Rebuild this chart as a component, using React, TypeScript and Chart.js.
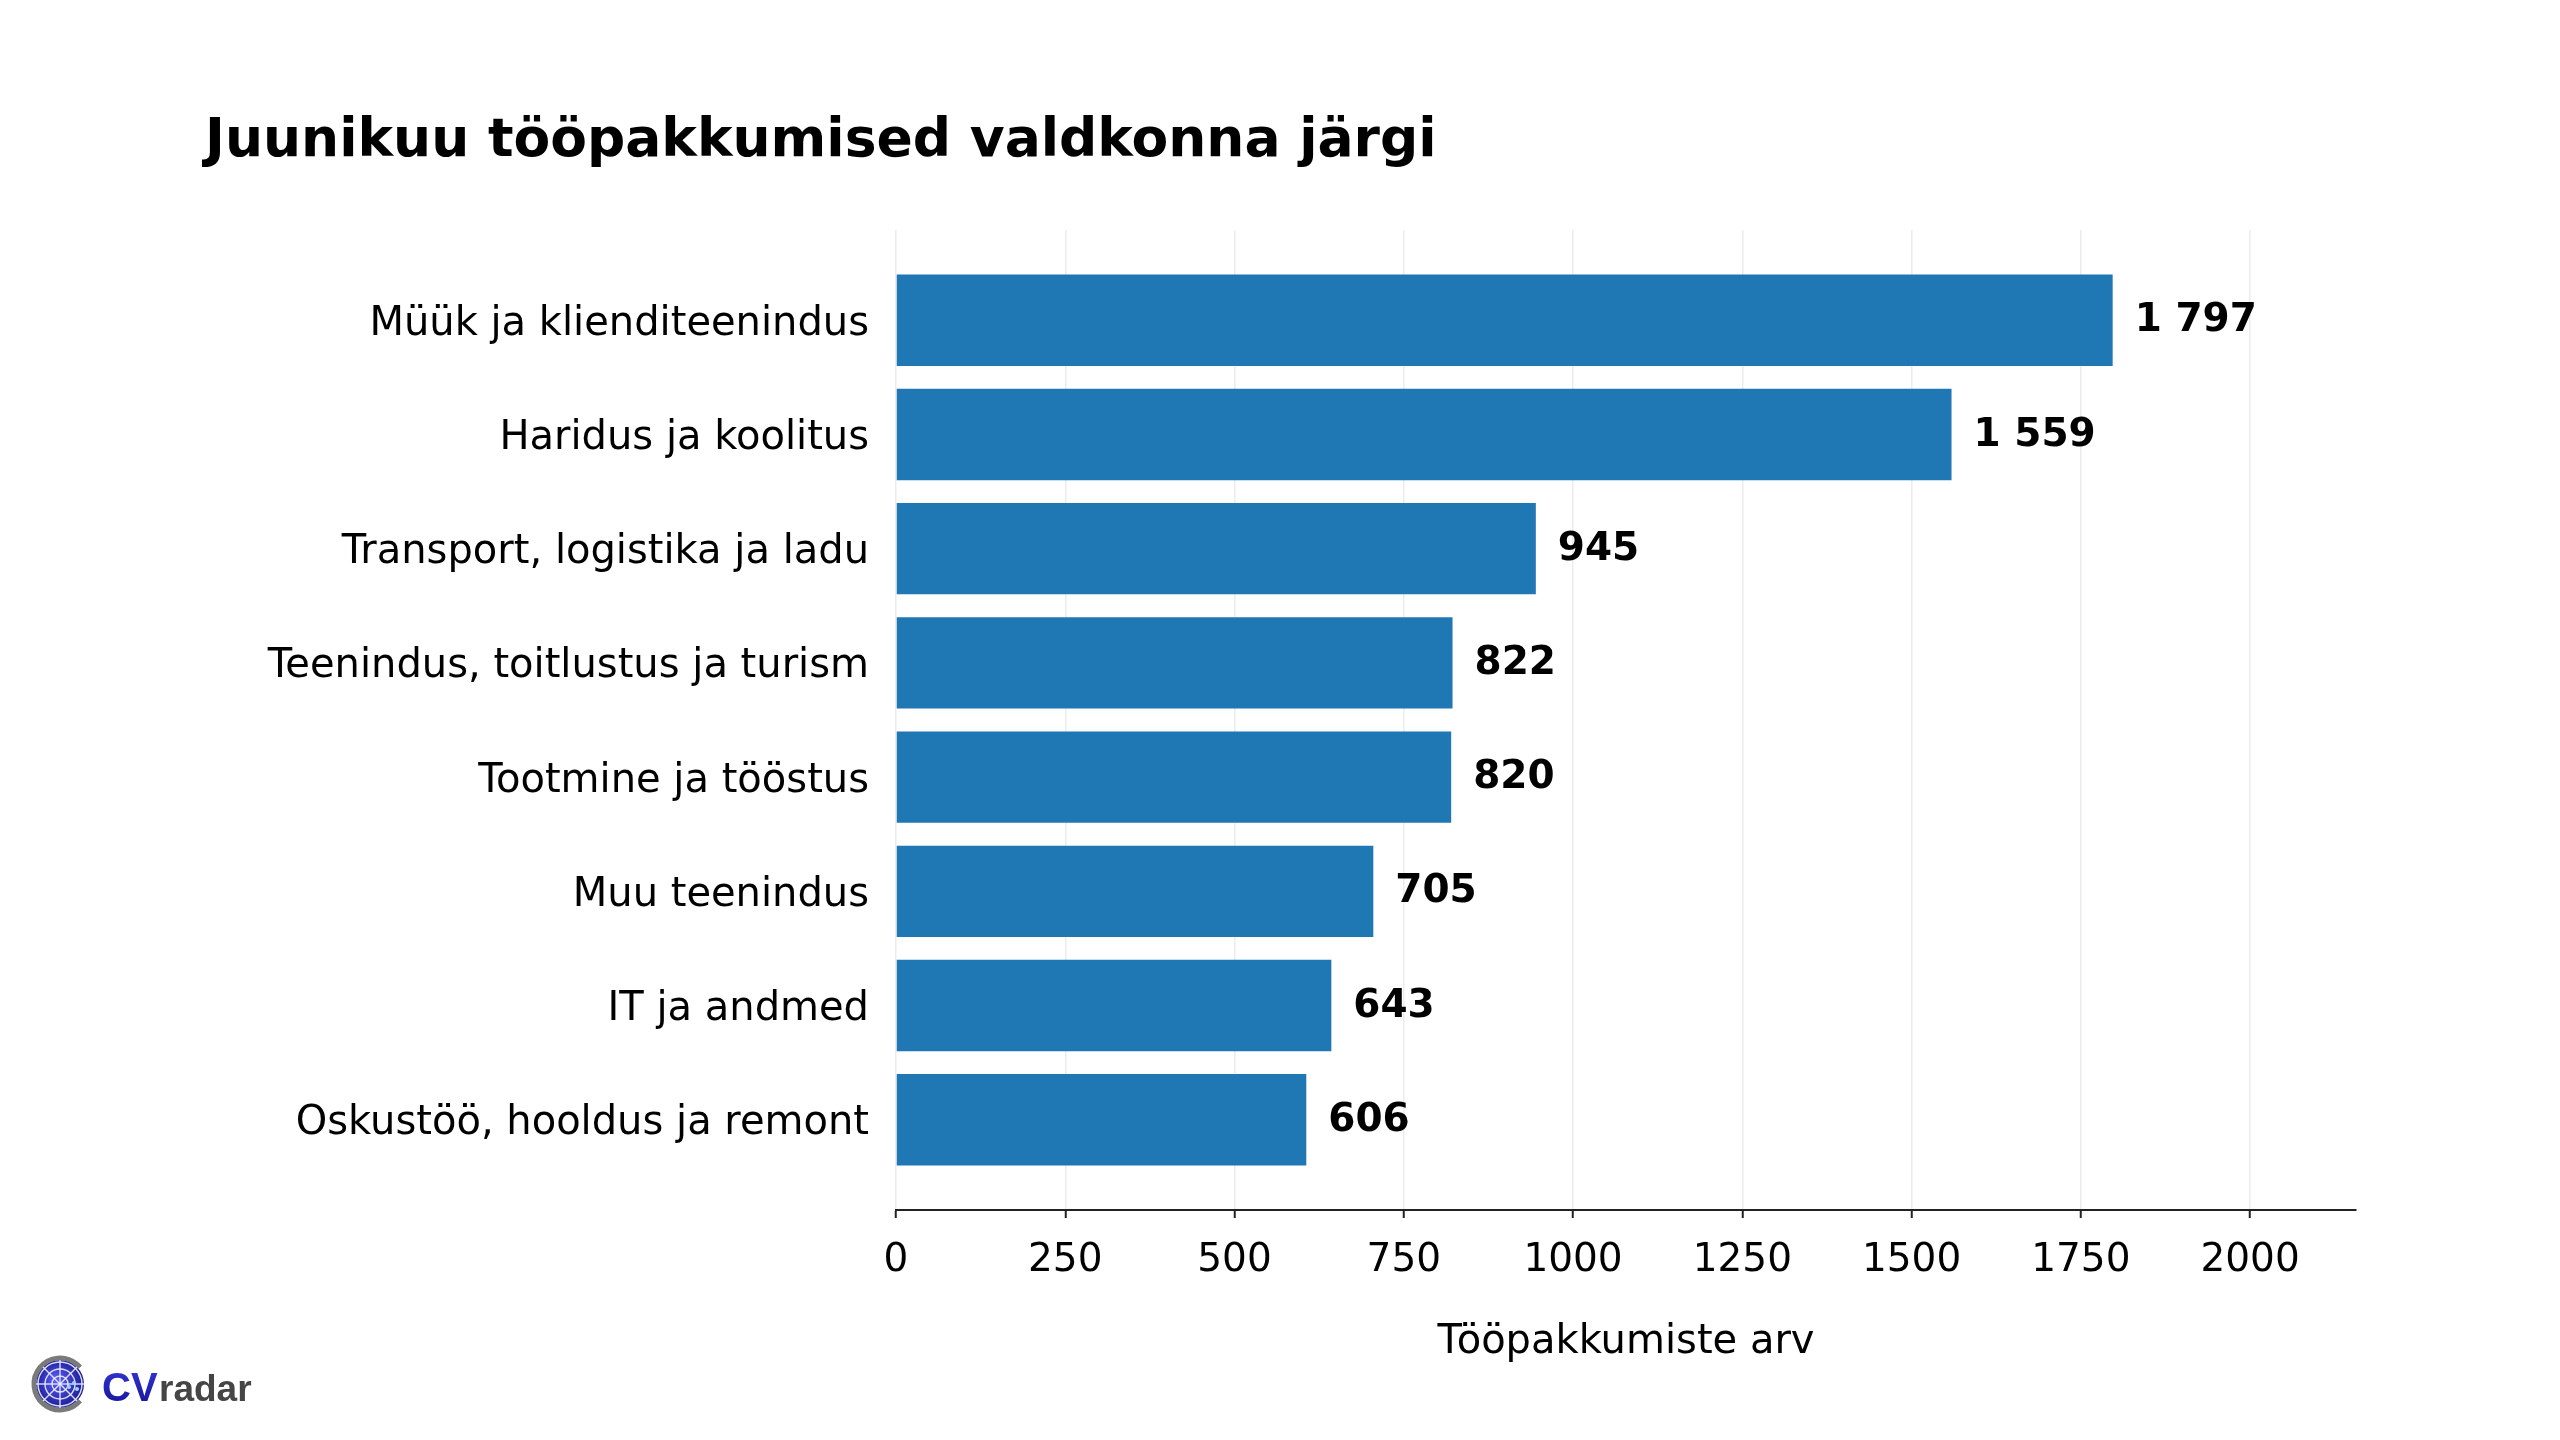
import React, { useEffect, useRef } from "react";
import { Chart, registerables } from "chart.js";

Chart.register(...registerables);

const categories: string[] = [
  "Müük ja klienditeenindus",
  "Haridus ja koolitus",
  "Transport, logistika ja ladu",
  "Teenindus, toitlustus ja turism",
  "Tootmine ja tööstus",
  "Muu teenindus",
  "IT ja andmed",
  "Oskustöö, hooldus ja remont",
];
const values: number[] = [1797, 1559, 945, 822, 820, 705, 643, 606];
const xTicks: number[] = [0, 250, 500, 750, 1000, 1250, 1500, 1750, 2000];

const TITLE = "Juunikuu tööpakkumised valdkonna järgi";
const X_TITLE = "Tööpakkumiste arv";
const FONT = "'DejaVu Sans', sans-serif";

function fmt(v: number): string {
  const s = String(Math.round(v));
  return s.replace(/\B(?=(\d{3})+(?!\d))/g, " ");
}

const valueLabels = {
  id: "valueLabels",
  afterDatasetsDraw(chart: any) {
    const ctx = chart.ctx;
    const meta = chart.getDatasetMeta(0);
    ctx.save();
    ctx.font = `bold 39px ${FONT}`;
    ctx.fillStyle = "#000";
    ctx.textAlign = "left";
    ctx.textBaseline = "middle";
    meta.data.forEach((bar: any, i: number) => {
      ctx.fillText(fmt(values[i]), bar.x + 22, bar.y + 1);
    });
    ctx.restore();
  },
};

const logo = {
  id: "logo",
  afterDraw(chart: any) {
    const ctx = chart.ctx;
    const cx = 60;
    const cy = 1384;
    ctx.save();
    // blue disc
    const g = ctx.createRadialGradient(cx - 5, cy - 5, 2, cx, cy, 25);
    g.addColorStop(0, "#5a5af0");
    g.addColorStop(1, "#1b1b95");
    ctx.fillStyle = g;
    ctx.beginPath();
    ctx.arc(cx, cy, 24, 0, Math.PI * 2);
    ctx.fill();
    // grey C ring
    ctx.strokeStyle = "#7a7a7a";
    ctx.lineWidth = 5;
    ctx.beginPath();
    ctx.arc(cx, cy, 26, Math.PI * 0.22, Math.PI * 1.78, false);
    ctx.stroke();
    // web
    ctx.strokeStyle = "rgba(235,240,255,0.9)";
    ctx.lineWidth = 1.4;
    [8, 15, 22].forEach((r) => {
      ctx.beginPath();
      ctx.arc(cx, cy, r, 0, Math.PI * 2);
      ctx.stroke();
    });
    for (let k = 0; k < 8; k++) {
      const a = (k * Math.PI) / 4;
      ctx.beginPath();
      ctx.moveTo(cx, cy);
      ctx.lineTo(cx + Math.cos(a) * 24, cy + Math.sin(a) * 24);
      ctx.stroke();
    }
    ctx.fillStyle = "#9fd4ff";
    [[9, 3], [14, -1], [17, 5]].forEach(([dx, dy]) => {
      ctx.beginPath();
      ctx.arc(cx + dx, cy + dy, 2, 0, Math.PI * 2);
      ctx.fill();
    });
    // text
    ctx.textAlign = "left";
    ctx.textBaseline = "alphabetic";
    ctx.font = "bold 40px 'Liberation Sans', Arial, sans-serif";
    const tg = ctx.createLinearGradient(0, 1372, 0, 1401);
    tg.addColorStop(0, "#3030d0");
    tg.addColorStop(1, "#1a1aa0");
    ctx.fillStyle = tg;
    ctx.fillText("CV", 102, 1401);
    ctx.font = "bold 37px 'Liberation Sans', Arial, sans-serif";
    ctx.fillStyle = "#454545";
    ctx.fillText("radar", 159, 1401);
    ctx.restore();
  },
};

export default function App() {
  const ref = useRef<HTMLCanvasElement | null>(null);

  useEffect(() => {
    document.body.style.margin = "0";
    const canvas = ref.current;
    if (!canvas) return;
    Chart.defaults.font.family = FONT;
    const chart = new Chart(canvas, {
      type: "bar",
      data: {
        datasets: [
          {
            data: values.map((v, i) => ({ x: v, y: i })) as any,
            backgroundColor: "#1f77b4",
            borderWidth: 0,
            barPercentage: 0.8,
            categoryPercentage: 1.0,
          },
        ],
      },
      options: {
        indexAxis: "y",
        responsive: false,
        animation: false,
        devicePixelRatio: 1,
        layout: { padding: { left: 205, right: 204, top: 0, bottom: 0 } },
        plugins: {
          legend: { display: false },
          tooltip: { enabled: false },
          title: {
            display: true,
            text: TITLE,
            align: "start",
            color: "#000",
            font: { family: FONT, size: 53.5, weight: "bold", lineHeight: 1.2 },
            padding: { top: 110, bottom: 55.8 },
          },
        },
        scales: {
          y: {
            type: "linear",
            reverse: true,
            offset: false,
            min: -0.79,
            max: 7.79,
            afterBuildTicks: (scale: any) => {
              scale.ticks = categories.map((_, i) => ({ value: i }));
            },
            afterFit: (scale: any) => {
              scale.width = 691;
            },
            grid: { display: false, drawTicks: false, offset: false },
            border: { display: false },
            ticks: {
              autoSkip: false,
              padding: 27,
              labelOffset: 4,
              color: "#000",
              font: { family: FONT, size: 40 },
              callback: (v: any) => categories[Math.round(Number(v))] ?? "",
            },
          },
          x: {
            type: "linear",
            min: 0,
            max: 2156.4,
            offset: false,
            afterBuildTicks: (scale: any) => {
              scale.ticks = xTicks.map((v) => ({ value: v }));
            },
            afterFit: (scale: any) => {
              scale.height = 230;
            },
            grid: {
              color: "#ececec",
              lineWidth: 1.5,
              drawTicks: true,
              tickLength: 8,
              tickColor: "#222",
              tickWidth: 2,
            },
            border: { display: true, color: "#222", width: 2 },
            ticks: {
              padding: 19,
              color: "#000",
              maxRotation: 0,
              font: { family: FONT, size: 39 },
              callback: (v: any) => String(v),
            },
            title: {
              display: true,
              text: X_TITLE,
              color: "#000",
              font: { family: FONT, size: 40, lineHeight: 1.2 },
              padding: { top: 0, bottom: 73 },
            },
          },
        },
      },
      plugins: [valueLabels, logo],
    });
    return () => chart.destroy();
  }, []);

  return (
    <div style={{ width: 2560, height: 1440, background: "#fff" }}>
      <canvas ref={ref} width={2560} height={1440} style={{ width: 2560, height: 1440, display: "block" }} />
    </div>
  );
}
